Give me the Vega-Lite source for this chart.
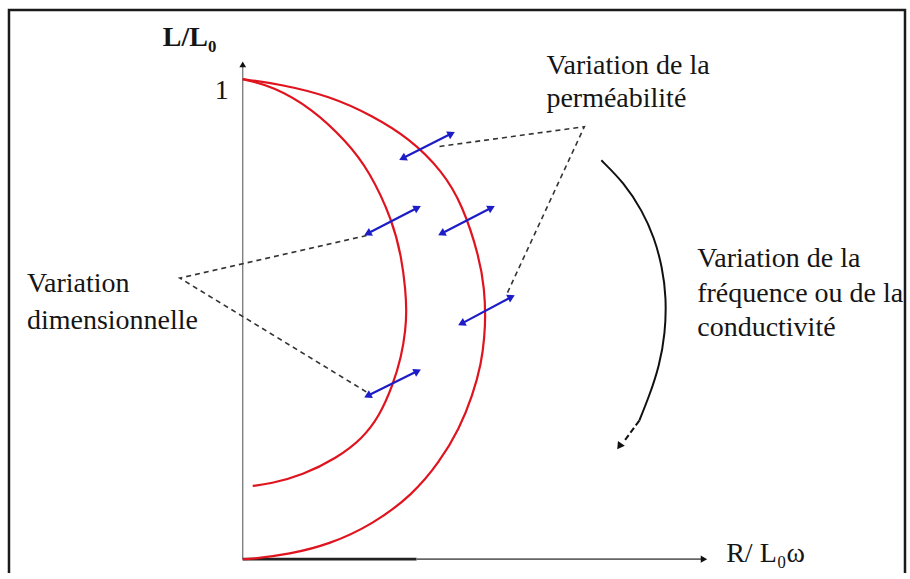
{
  "$schema": "https://vega.github.io/schema/vega-lite/v6.json",
  "width": 910,
  "height": 579,
  "autosize": {"type": "fit", "contains": "padding"},
  "padding": 0,
  "background": "white",
  "config": {"view": {"stroke": null}},
  "datasets": {
    "frame": [
      {"i": 0, "x": -0.4825, "y": -0.0289},
      {"i": 1, "x": -0.4825, "y": 1.1443},
      {"i": 2, "x": 1.367, "y": 1.1443},
      {"i": 3, "x": 1.367, "y": -0.0289}
    ],
    "axes": [
      {"part": "yaxis", "i": 0, "x": 0, "y": 0},
      {"part": "yaxis", "i": 1, "x": 0, "y": 1.03},
      {"part": "xdark", "i": 0, "x": 0, "y": 0},
      {"part": "xdark", "i": 1, "x": 0.3588, "y": 0},
      {"part": "xlight", "i": 0, "x": 0.3588, "y": 0},
      {"part": "xlight", "i": 1, "x": 0.948, "y": 0}
    ],
    "axisHeads": [
      {"axis": "L/L0", "x": 0, "y": 1.031},
      {"axis": "R/L0w", "x": 0.952, "y": 0}
    ],
    "arcs": [
      {"curve": "outer", "i": 0, "x": 0, "y": 1.0},
      {"curve": "outer", "i": 1, "x": 0.0763, "y": 0.9897},
      {"curve": "outer", "i": 2, "x": 0.1794, "y": 0.9649},
      {"curve": "outer", "i": 3, "x": 0.268, "y": 0.9237},
      {"curve": "outer", "i": 4, "x": 0.3443, "y": 0.8763},
      {"curve": "outer", "i": 5, "x": 0.4124, "y": 0.8082},
      {"curve": "outer", "i": 6, "x": 0.4536, "y": 0.7381},
      {"curve": "outer", "i": 7, "x": 0.4887, "y": 0.6289},
      {"curve": "outer", "i": 8, "x": 0.499, "y": 0.5608},
      {"curve": "outer", "i": 9, "x": 0.501, "y": 0.5052},
      {"curve": "outer", "i": 10, "x": 0.499, "y": 0.4639},
      {"curve": "outer", "i": 11, "x": 0.4928, "y": 0.4082},
      {"curve": "outer", "i": 12, "x": 0.4742, "y": 0.3402},
      {"curve": "outer", "i": 13, "x": 0.4474, "y": 0.2722},
      {"curve": "outer", "i": 14, "x": 0.4062, "y": 0.2021},
      {"curve": "outer", "i": 15, "x": 0.3505, "y": 0.134},
      {"curve": "outer", "i": 16, "x": 0.268, "y": 0.0722},
      {"curve": "outer", "i": 17, "x": 0.1794, "y": 0.0309},
      {"curve": "outer", "i": 18, "x": 0.0969, "y": 0.0103},
      {"curve": "outer", "i": 19, "x": 0.0144, "y": 0.0},
      {"curve": "outer", "i": 20, "x": 0, "y": 0},
      {"curve": "inner", "i": 0, "x": 0, "y": 1.0},
      {"curve": "inner", "i": 1, "x": 0.0619, "y": 0.9856},
      {"curve": "inner", "i": 2, "x": 0.1443, "y": 0.9381},
      {"curve": "inner", "i": 3, "x": 0.2144, "y": 0.8701},
      {"curve": "inner", "i": 4, "x": 0.2619, "y": 0.8082},
      {"curve": "inner", "i": 5, "x": 0.3093, "y": 0.7052},
      {"curve": "inner", "i": 6, "x": 0.3278, "y": 0.6289},
      {"curve": "inner", "i": 7, "x": 0.3361, "y": 0.5608},
      {"curve": "inner", "i": 8, "x": 0.3381, "y": 0.5155},
      {"curve": "inner", "i": 9, "x": 0.3361, "y": 0.4784},
      {"curve": "inner", "i": 10, "x": 0.3278, "y": 0.4227},
      {"curve": "inner", "i": 11, "x": 0.3093, "y": 0.3608},
      {"curve": "inner", "i": 12, "x": 0.2825, "y": 0.299},
      {"curve": "inner", "i": 13, "x": 0.2474, "y": 0.2515},
      {"curve": "inner", "i": 14, "x": 0.1938, "y": 0.2103},
      {"curve": "inner", "i": 15, "x": 0.1237, "y": 0.1753},
      {"curve": "inner", "i": 16, "x": 0.0557, "y": 0.1567},
      {"curve": "inner", "i": 17, "x": 0.0206, "y": 0.1526}
    ],
    "shifts": [
      {"id": 1, "end": "sw", "x": 0.3299, "y": 0.8351},
      {"id": 1, "end": "ne", "x": 0.4309, "y": 0.8866},
      {"id": 2, "end": "sw", "x": 0.2577, "y": 0.6784},
      {"id": 2, "end": "ne", "x": 0.3608, "y": 0.732},
      {"id": 3, "end": "sw", "x": 0.4103, "y": 0.6784},
      {"id": 3, "end": "ne", "x": 0.5134, "y": 0.732},
      {"id": 4, "end": "sw", "x": 0.4515, "y": 0.4907},
      {"id": 4, "end": "ne", "x": 0.5546, "y": 0.5464},
      {"id": 5, "end": "sw", "x": 0.2577, "y": 0.3402},
      {"id": 5, "end": "ne", "x": 0.3608, "y": 0.3918}
    ],
    "leaders": [
      {"id": "perm", "i": 0, "x": 0.4062, "y": 0.8598},
      {"id": "perm", "i": 1, "x": 0.7052, "y": 0.901},
      {"id": "perm", "i": 2, "x": 0.5443, "y": 0.5505},
      {"id": "dim", "i": 0, "x": 0.2557, "y": 0.6742},
      {"id": "dim", "i": 1, "x": -0.1299, "y": 0.5856},
      {"id": "dim", "i": 2, "x": 0.2619, "y": 0.3443}
    ],
    "sweep": [
      {"i": 0, "x": 0.7402, "y": 0.8309},
      {"i": 1, "x": 0.7876, "y": 0.7835},
      {"i": 2, "x": 0.8247, "y": 0.7258},
      {"i": 3, "x": 0.8495, "y": 0.6701},
      {"i": 4, "x": 0.866, "y": 0.6082},
      {"i": 5, "x": 0.8742, "y": 0.5464},
      {"i": 6, "x": 0.8722, "y": 0.4701},
      {"i": 7, "x": 0.8598, "y": 0.4021},
      {"i": 8, "x": 0.8392, "y": 0.3402},
      {"i": 9, "x": 0.8186, "y": 0.2887}
    ],
    "sweepTail": [
      {"i": 0, "x": 0.8186, "y": 0.2887},
      {"i": 1, "x": 0.7856, "y": 0.2433}
    ],
    "sweepHead": [
      {"x": 0.7773, "y": 0.2351}
    ],
    "labels": [
      {"label": "1", "x": -0.0577, "y": 0.9588},
      {"label": "Variation de la", "x": 0.6268, "y": 1.0103},
      {"label": "perméabilité", "x": 0.6268, "y": 0.9423},
      {"label": "Variation", "x": -0.4454, "y": 0.5567},
      {"label": "dimensionnelle", "x": -0.4454, "y": 0.4804},
      {"label": "Variation de la", "x": 0.9381, "y": 0.6082},
      {"label": "fréquence ou de la", "x": 0.9381, "y": 0.5361},
      {"label": "conductivité", "x": 0.9381, "y": 0.4639},
      {"label": "R/ L₀ω", "x": 0.9979, "y": -0.0062}
    ],
    "title": [
      {"label": "L/L₀", "x": -0.1649, "y": 1.0701}
    ]
  },
  "encoding": {
    "x": {"field": "x", "type": "quantitative", "scale": {"domain": [-0.50103, 1.37526], "nice": false, "zero": false}, "axis": null},
    "y": {"field": "y", "type": "quantitative", "scale": {"domain": [-0.028866, 1.164948], "nice": false, "zero": false}, "axis": null}
  },
  "layer": [
    {
      "data": {"name": "frame"},
      "mark": {"type": "line", "color": "#1a1a1a", "strokeWidth": 2.5},
      "encoding": {"order": {"field": "i", "type": "quantitative"}}
    },
    {
      "data": {"name": "axes"},
      "transform": [{"filter": "datum.part === 'yaxis'"}],
      "mark": {"type": "line", "color": "#777777", "strokeWidth": 1.3},
      "encoding": {"order": {"field": "i", "type": "quantitative"}}
    },
    {
      "data": {"name": "axes"},
      "transform": [{"filter": "datum.part === 'xdark'"}],
      "mark": {"type": "line", "color": "#222222", "strokeWidth": 2.6},
      "encoding": {"order": {"field": "i", "type": "quantitative"}}
    },
    {
      "data": {"name": "axes"},
      "transform": [{"filter": "datum.part === 'xlight'"}],
      "mark": {"type": "line", "color": "#666666", "strokeWidth": 1.8},
      "encoding": {"order": {"field": "i", "type": "quantitative"}}
    },
    {
      "data": {"name": "axisHeads"},
      "transform": [{"filter": "datum.axis === 'L/L0'"}],
      "mark": {"type": "point", "shape": "triangle-up", "filled": true, "color": "#111111", "size": 45, "opacity": 1, "angle": 0}
    },
    {
      "data": {"name": "axisHeads"},
      "transform": [{"filter": "datum.axis === 'R/L0w'"}],
      "mark": {"type": "point", "shape": "triangle-up", "filled": true, "color": "#111111", "size": 55, "opacity": 1, "angle": 90}
    },
    {
      "data": {"name": "arcs"},
      "mark": {"type": "line", "color": "#e0141e", "strokeWidth": 2.2, "interpolate": "basis"},
      "encoding": {
        "detail": {"field": "curve", "type": "nominal"},
        "order": {"field": "i", "type": "quantitative"}
      }
    },
    {
      "data": {"name": "leaders"},
      "mark": {"type": "line", "color": "#333333", "strokeWidth": 1.6, "strokeDash": [5, 4]},
      "encoding": {
        "detail": {"field": "id", "type": "nominal"},
        "order": {"field": "i", "type": "quantitative"}
      }
    },
    {
      "data": {"name": "shifts"},
      "mark": {"type": "line", "color": "#1c1cc8", "strokeWidth": 2.2},
      "encoding": {"detail": {"field": "id", "type": "nominal"}}
    },
    {
      "data": {"name": "shifts"},
      "transform": [{"filter": "datum.end === 'ne'"}],
      "mark": {"type": "point", "shape": "triangle-up", "filled": true, "color": "#1c1cc8", "size": 75, "opacity": 1, "angle": 63}
    },
    {
      "data": {"name": "shifts"},
      "transform": [{"filter": "datum.end === 'sw'"}],
      "mark": {"type": "point", "shape": "triangle-up", "filled": true, "color": "#1c1cc8", "size": 75, "opacity": 1, "angle": 243}
    },
    {
      "data": {"name": "sweep"},
      "mark": {"type": "line", "color": "#111111", "strokeWidth": 2, "interpolate": "basis"},
      "encoding": {"order": {"field": "i", "type": "quantitative"}}
    },
    {
      "data": {"name": "sweepTail"},
      "mark": {"type": "line", "color": "#111111", "strokeWidth": 2, "strokeDash": [6, 3]},
      "encoding": {"order": {"field": "i", "type": "quantitative"}}
    },
    {
      "data": {"name": "sweepHead"},
      "mark": {"type": "point", "shape": "triangle-up", "filled": true, "color": "#111111", "size": 70, "opacity": 1, "angle": 215}
    },
    {
      "data": {"name": "labels"},
      "mark": {"type": "text", "align": "left", "baseline": "alphabetic", "font": "'Liberation Serif', 'Times New Roman', Times, 'DejaVu Serif', serif", "fontSize": 28, "color": "#151515"},
      "encoding": {"text": {"field": "label", "type": "nominal"}}
    },
    {
      "data": {"name": "title"},
      "mark": {"type": "text", "align": "left", "baseline": "alphabetic", "font": "'Liberation Serif', 'Times New Roman', Times, 'DejaVu Serif', serif", "fontSize": 28, "fontWeight": "bold", "color": "#151515"},
      "encoding": {"text": {"field": "label", "type": "nominal"}}
    }
  ]
}
